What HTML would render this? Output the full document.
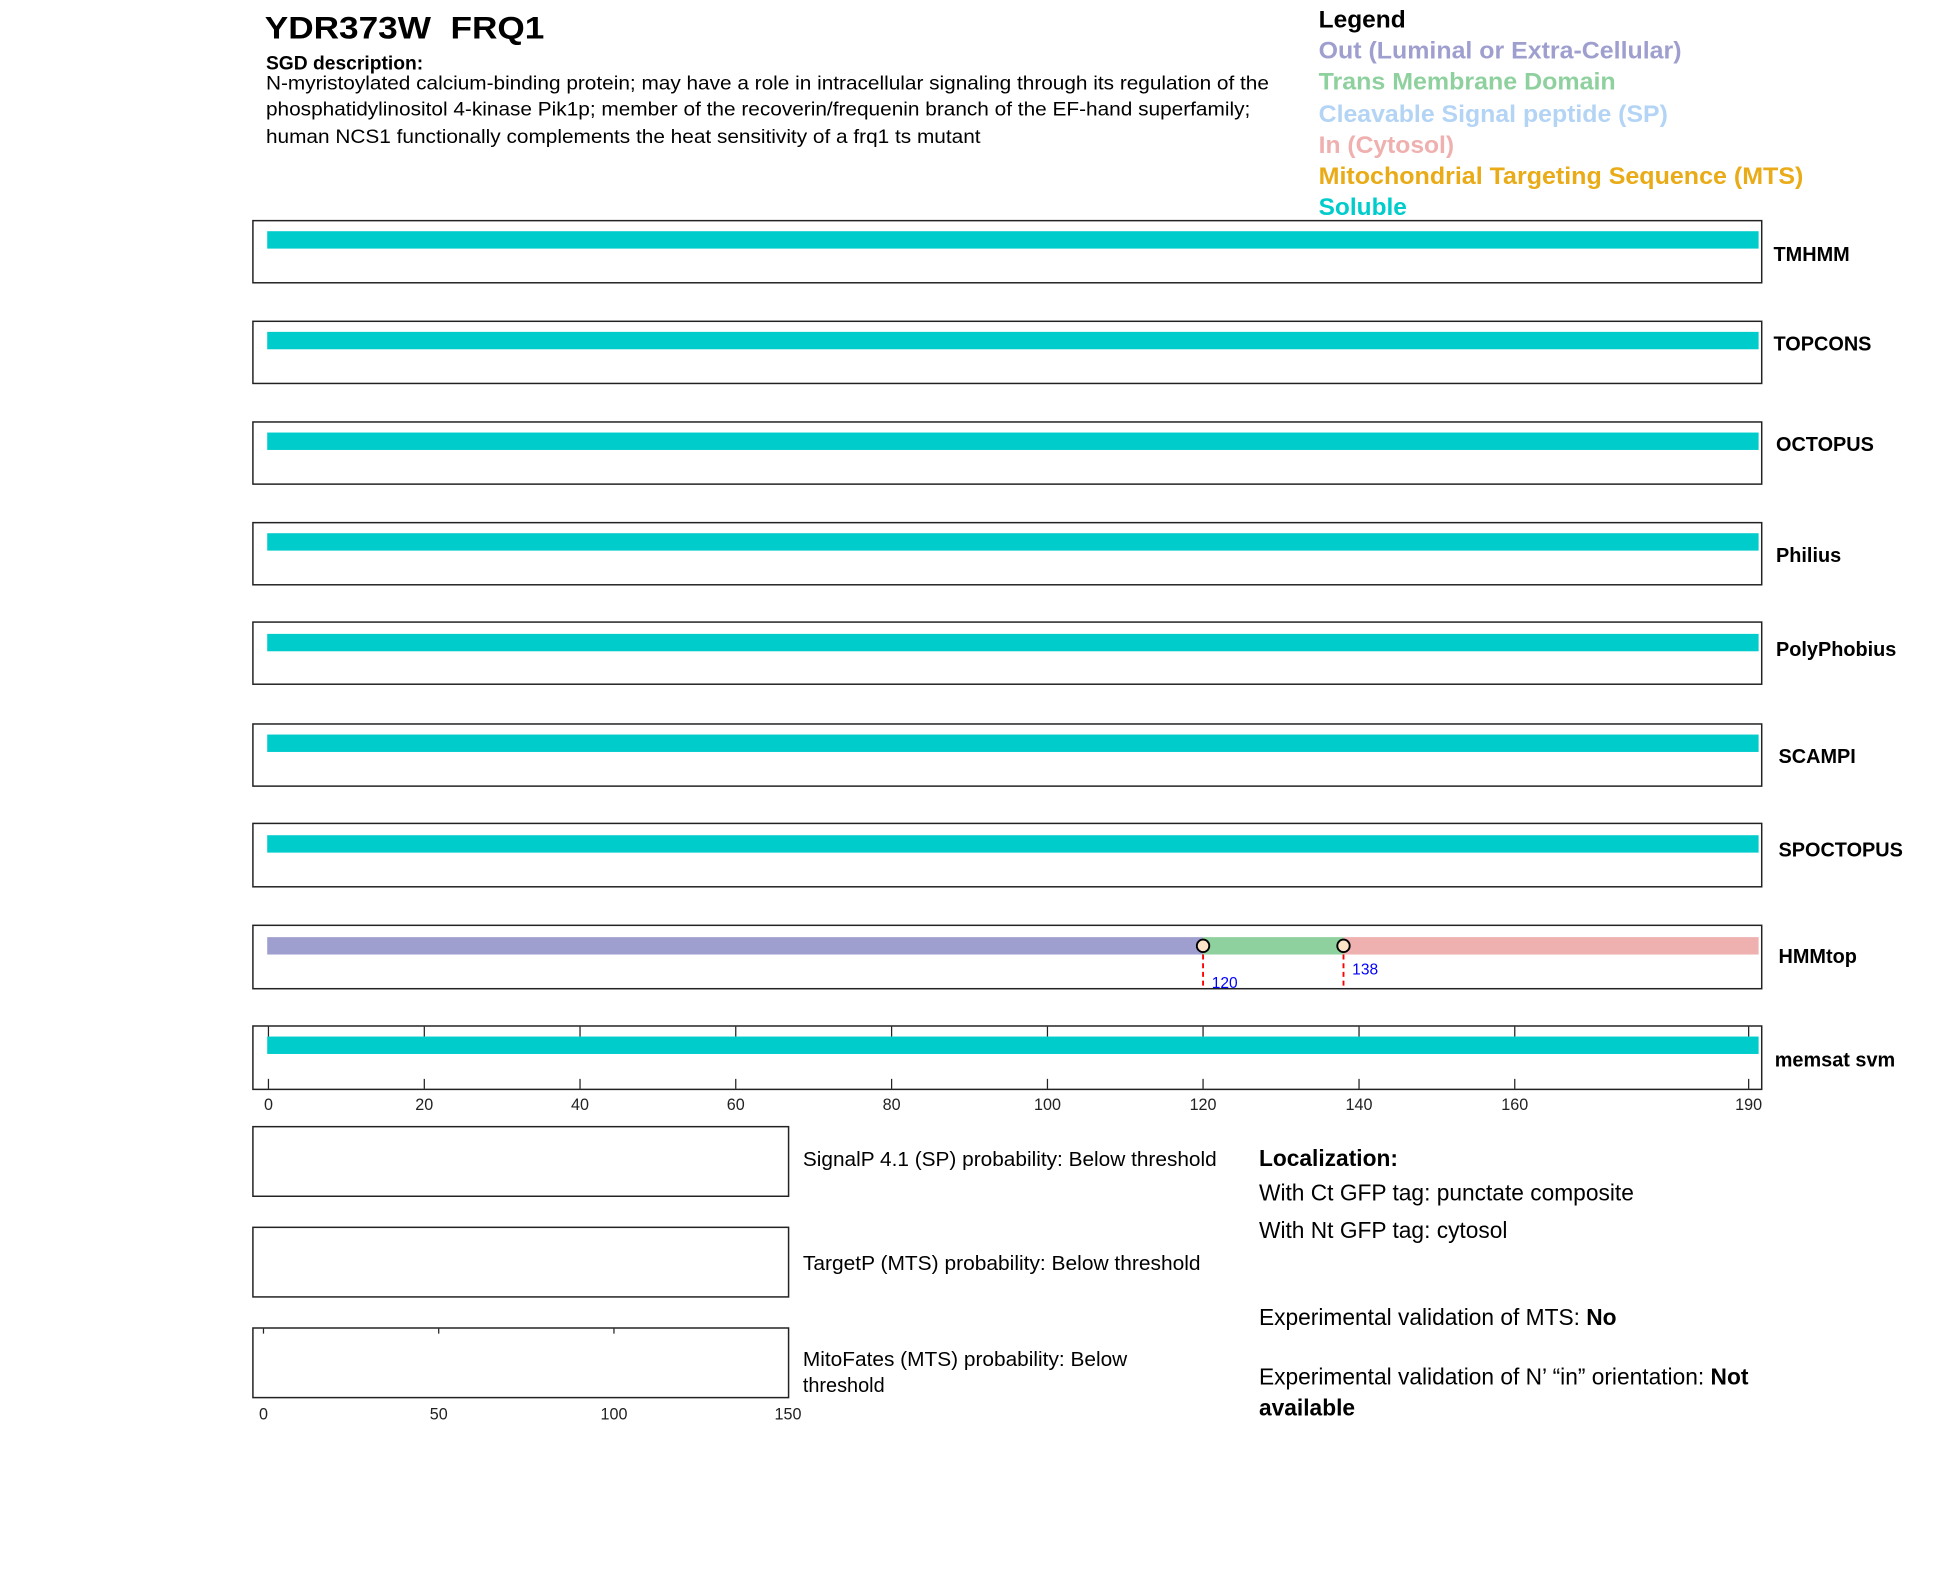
<!DOCTYPE html>
<html><head><meta charset="utf-8"><style>
html,body{margin:0;padding:0;background:#fff;}
svg{display:block;font-family:"Liberation Sans",Arial,sans-serif;}
</style></head><body>
<svg width="1950" height="1573" viewBox="0 0 1569 1265.6" xmlns="http://www.w3.org/2000/svg">
<rect width="1569" height="1265.6" fill="#fff"/>
<text x="213" y="31" font-size="25" font-weight="bold" textLength="225" lengthAdjust="spacingAndGlyphs">YDR373W&#160;&#160;FRQ1</text>
<text x="214" y="56" font-size="15.5" font-weight="bold">SGD description:</text>
<g font-size="15.5">
<text x="214" y="72" textLength="807" lengthAdjust="spacingAndGlyphs">N-myristoylated calcium-binding protein; may have a role in intracellular signaling through its regulation of the</text>
<text x="214" y="93" textLength="792" lengthAdjust="spacingAndGlyphs">phosphatidylinositol 4-kinase Pik1p; member of the recoverin/frequenin branch of the EF-hand superfamily;</text>
<text x="214" y="115" textLength="575" lengthAdjust="spacingAndGlyphs">human NCS1 functionally complements the heat sensitivity of a frq1 ts mutant</text>
</g>
<g font-size="19" font-weight="bold">
<text x="1061" y="22" textLength="70" lengthAdjust="spacingAndGlyphs">Legend</text>
<text x="1061" y="47" fill="#9f9fcf" textLength="292" lengthAdjust="spacingAndGlyphs">Out (Luminal or Extra-Cellular)</text>
<text x="1061" y="72" fill="#8fd19e" textLength="239" lengthAdjust="spacingAndGlyphs">Trans Membrane Domain</text>
<text x="1061" y="98" fill="#b3d4f5" textLength="281" lengthAdjust="spacingAndGlyphs">Cleavable Signal peptide (SP)</text>
<text x="1061" y="123" fill="#efb0b0" textLength="109" lengthAdjust="spacingAndGlyphs">In (Cytosol)</text>
<text x="1061" y="148" fill="#e9ab17" textLength="390" lengthAdjust="spacingAndGlyphs">Mitochondrial Targeting Sequence (MTS)</text>
<text x="1061" y="173" fill="#00cccc" textLength="71" lengthAdjust="spacingAndGlyphs">Soluble</text>
</g>
<g fill="none" stroke="#222" stroke-width="1.2">
<rect x="203.5" y="177.5" width="1214" height="50"/>
<rect x="203.5" y="258.5" width="1214" height="50"/>
<rect x="203.5" y="339.5" width="1214" height="50"/>
<rect x="203.5" y="420.5" width="1214" height="50"/>
<rect x="203.5" y="500.5" width="1214" height="50"/>
<rect x="203.5" y="582.5" width="1214" height="50"/>
<rect x="203.5" y="662.5" width="1214" height="51"/>
<rect x="203.5" y="744.5" width="1214" height="51"/>
<rect x="203.5" y="825.5" width="1214" height="51"/>
</g>
<g fill="#00cccc">
<rect x="215" y="186" width="1200" height="14"/>
<rect x="215" y="267" width="1200" height="14"/>
<rect x="215" y="348" width="1200" height="14"/>
<rect x="215" y="429" width="1200" height="14"/>
<rect x="215" y="510" width="1200" height="14"/>
<rect x="215" y="591" width="1200" height="14"/>
<rect x="215" y="672" width="1200" height="14"/>
<rect x="215" y="834" width="1200" height="14"/>
</g>
<rect x="215" y="754" width="753" height="14" fill="#9f9fcf"/>
<rect x="968" y="754" width="113" height="14" fill="#8fd19e"/>
<rect x="1081" y="754" width="334" height="14" fill="#efb0b0"/>
<g stroke="red" stroke-width="1.5" stroke-dasharray="4,3">
<line x1="968" y1="761" x2="968" y2="795"/>
<line x1="1081" y1="761" x2="1081" y2="795"/>
</g>
<circle cx="968" cy="761" r="5" fill="#fbe3c8" stroke="#000" stroke-width="1.5"/>
<circle cx="1081" cy="761" r="5" fill="#fbe3c8" stroke="#000" stroke-width="1.5"/>
<text x="975" y="795" font-size="12.5" fill="blue">120</text>
<text x="1088" y="784" font-size="12.5" fill="blue">138</text>
<g font-size="16" font-weight="bold">
<text x="1427" y="210">TMHMM</text>
<text x="1427" y="282">TOPCONS</text>
<text x="1429" y="363">OCTOPUS</text>
<text x="1429" y="452">Philius</text>
<text x="1429" y="528">PolyPhobius</text>
<text x="1431" y="614">SCAMPI</text>
<text x="1431" y="689">SPOCTOPUS</text>
<text x="1431" y="775">HMMtop</text>
<text x="1428" y="858">memsat svm</text>
</g>
<g stroke="#222" stroke-width="1">
<path d="M216 826v8M341.4 826v8M466.7 826v8M592 826v8M717.4 826v8M842.8 826v8M968 826v8M1093.5 826v8M1218.8 826v8M1407 826v8"/>
<path d="M216 876v-8M341.4 876v-8M466.7 876v-8M592 876v-8M717.4 876v-8M842.8 876v-8M968 876v-8M1093.5 876v-8M1218.8 876v-8M1407 876v-8"/>
</g>
<g font-size="13" text-anchor="middle" fill="#222">
<text x="216" y="893">0</text><text x="341.4" y="893">20</text><text x="466.7" y="893">40</text>
<text x="592" y="893">60</text><text x="717.4" y="893">80</text><text x="842.8" y="893">100</text>
<text x="968" y="893">120</text><text x="1093.5" y="893">140</text><text x="1218.8" y="893">160</text><text x="1407" y="893">190</text>
</g>
<g fill="none" stroke="#222" stroke-width="1.2">
<rect x="203.5" y="906.5" width="431" height="56"/>
<rect x="203.5" y="987.5" width="431" height="56"/>
<rect x="203.5" y="1068.5" width="431" height="56"/>
</g>
<path d="M212 1069v4M353 1069v4M494 1069v4" stroke="#222"/>
<g font-size="13" text-anchor="middle" fill="#222">
<text x="212" y="1142">0</text><text x="353" y="1142">50</text><text x="494" y="1142">100</text><text x="634" y="1142">150</text>
</g>
<g font-size="16">
<text x="646" y="938" textLength="333" lengthAdjust="spacingAndGlyphs">SignalP 4.1 (SP) probability: Below threshold</text>
<text x="646" y="1022" textLength="320" lengthAdjust="spacingAndGlyphs">TargetP (MTS) probability: Below threshold</text>
<text x="646" y="1099" textLength="261" lengthAdjust="spacingAndGlyphs">MitoFates (MTS) probability: Below</text>
<text x="646" y="1120">threshold</text>
</g>
<g font-size="18.3">
<text x="1013" y="938" font-weight="bold">Localization:</text>
<text x="1013" y="966">With Ct GFP tag: punctate composite</text>
<text x="1013" y="996">With Nt GFP tag: cytosol</text>
<text x="1013" y="1066">Experimental validation of MTS: <tspan font-weight="bold">No</tspan></text>
<text x="1013" y="1114">Experimental validation of N’ “in” orientation: <tspan font-weight="bold">Not</tspan></text>
<text x="1013" y="1139" font-weight="bold">available</text>
</g>
</svg>
</body></html>
